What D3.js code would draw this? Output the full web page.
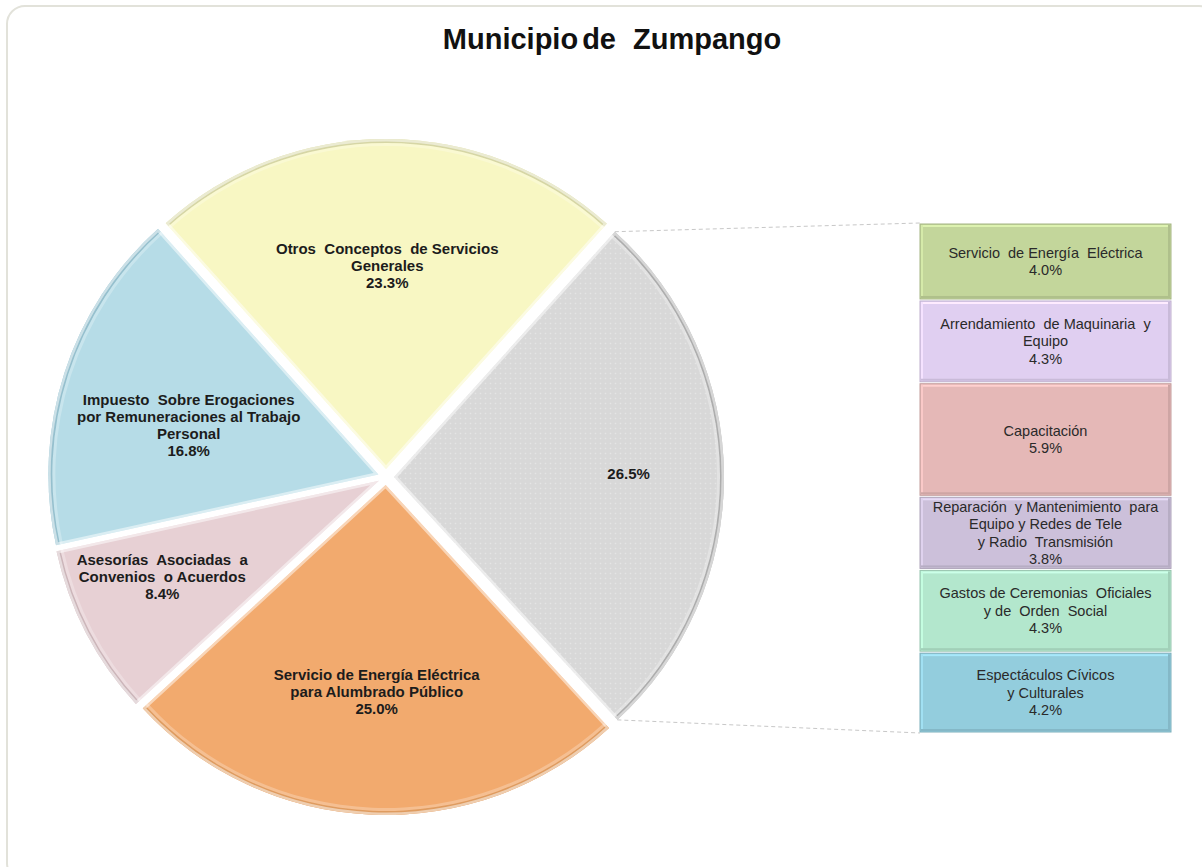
<!DOCTYPE html>
<html><head><meta charset="utf-8">
<script src="https://cdn.jsdelivr.net/npm/d3@7"></script>
<style>body{margin:0;background:#fff;} svg{display:block;font-family:"Liberation Sans",Arial,sans-serif;}</style>
</head><body><svg id="c" width="1202" height="867"></svg>
<script>
const titleWords = ["Municipio", "de", "Zumpango"];
const pieLabels = ["", "Servicio de Energía Eléctrica\npara Alumbrado Público", "Asesorías  Asociadas  a\nConvenios  o Acuerdos", "Impuesto  Sobre Erogaciones\npor Remuneraciones al Trabajo\nPersonal", "Otros  Conceptos  de Servicios\nGenerales"];
const pieValues = [26.5, 25.0, 8.4, 16.8, 23.3];
const pieColors = ["#d8d8d8", "#f2aa6e", "#e7d0d4", "#b6dce7", "#f8f7c3"];
const pieRims = ["#a9a9a9", "#dd9a5e", "#c9b3b7", "#92bccb", "#d2d1a2"];
const barLabels = ["Servicio  de Energía  Eléctrica", "Arrendamiento  de Maquinaria  y\nEquipo", "Capacitación", "Reparación  y Mantenimiento  para\nEquipo y Redes de Tele\ny Radio  Transmisión", "Gastos de Ceremonias  Oficiales\ny de  Orden  Social", "Espectáculos Cívicos\ny Culturales"];
const barValues = [4.0, 4.3, 5.9, 3.8, 4.3, 4.2];
const barColors = ["#c3d69b", "#e0cff1", "#e5b8b7", "#ccc0da", "#b3e7cd", "#93cddd"];
// label layout: radius fraction and pixel nudge
const labelRadiusFactor = [0.72, 0.65, 0.74, 0.62, 0.64];
const labelNudge = [[-3, -2], [0, -7], [0, -16], [5, 14], [1, 8]];

const svg = d3.select("#c");
const fmt = d3.format(".1f");

// frame
svg.append("rect").attr("x", 7).attr("y", 6).attr("width", 1210).attr("height", 875)
  .attr("rx", 18).attr("fill", "#fff").attr("stroke", "#e2e2da").attr("stroke-width", 2);

// title
const tt = svg.append("text").attr("x", 612).attr("y", 49).attr("text-anchor", "middle")
  .attr("font-size", 29).attr("font-weight", "bold").attr("fill", "#111");
tt.append("tspan").text(titleWords[0]);
tt.append("tspan").attr("dx", 4).text(titleWords[1]);
tt.append("tspan").attr("dx", 17).text(titleWords[2]);

// pattern for grey slice
const defs = svg.append("defs");
const pat = defs.append("pattern").attr("id", "dots").attr("width", 5).attr("height", 5).attr("patternUnits", "userSpaceOnUse");
pat.append("rect").attr("width", 5).attr("height", 5).attr("fill", pieColors[0]);
pat.append("circle").attr("cx", 1.5).attr("cy", 1.5).attr("r", 0.8).attr("fill", "#e6e6e6");

const cx = 386, cy = 477, R = 330, explode = 8;
const pie = d3.pie().sort(null).value(d => d)
  .startAngle(42 * Math.PI / 180).endAngle(42 * Math.PI / 180 + 2 * Math.PI);
const arcs = pie(pieValues);
const arc = d3.arc().innerRadius(0).outerRadius(R);

const g = svg.append("g").attr("transform", `translate(${cx},${cy})`);
arcs.forEach((a, i) => {
  const mid = (a.startAngle + a.endAngle) / 2;
  const ox = Math.sin(mid) * explode, oy = -Math.cos(mid) * explode;
  const sg = g.append("g").attr("transform", `translate(${ox},${oy})`);
  defs.append("clipPath").attr("id", "clip" + i).append("path").attr("d", arc(a));
  sg.append("path").attr("d", arc(a)).attr("fill", i === 0 ? "url(#dots)" : pieColors[i]);
  const rim = d3.arc().innerRadius(R - 4).outerRadius(R + 2);
  sg.append("path").attr("d", rim(a)).attr("fill", pieRims[i]).attr("clip-path", `url(#clip${i})`).attr("opacity", 0.9);
  const rim2 = d3.arc().innerRadius(R - 7).outerRadius(R - 4);
  sg.append("path").attr("d", rim2(a)).attr("fill", "#fff").attr("opacity", 0.25).attr("clip-path", `url(#clip${i})`);
  sg.append("path").attr("d", arc(a)).attr("fill", "none").attr("stroke", "#fff").attr("stroke-opacity", 0.5)
    .attr("stroke-width", 5).attr("clip-path", `url(#clip${i})`);
  const lr = R * labelRadiusFactor[i];
  const lx = Math.sin(mid) * lr + labelNudge[i][0], ly = -Math.cos(mid) * lr + labelNudge[i][1];
  const lines = (pieLabels[i] ? pieLabels[i].split("\n") : []).concat([fmt(pieValues[i]) + "%"]);
  const t = sg.append("text").attr("text-anchor", "middle").attr("font-size", 15).attr("font-weight", "bold")
    .attr("fill", "#1c1c1c").style("white-space", "pre");
  lines.forEach((ln, k) => {
    t.append("tspan").attr("x", lx).attr("y", ly + (k - (lines.length - 1) / 2) * 17 + 5).text(ln);
  });
});

// bar
const bx = 920, bw = 251;
const total = d3.sum(barValues);
const y = d3.scaleLinear().domain([0, total]).range([223, 733]);
const greyArc = arcs[0];
const gm = (greyArc.startAngle + greyArc.endAngle) / 2;
const gox = Math.sin(gm) * explode, goy = -Math.cos(gm) * explode;
const p1 = [cx + gox + Math.sin(greyArc.startAngle) * R, cy + goy - Math.cos(greyArc.startAngle) * R];
const p2 = [cx + gox + Math.sin(greyArc.endAngle) * R, cy + goy - Math.cos(greyArc.endAngle) * R];
svg.append("line").attr("x1", p1[0]).attr("y1", p1[1]).attr("x2", bx).attr("y2", y(0))
  .attr("stroke", "#c8c8c8").attr("stroke-dasharray", "4,3");
svg.append("line").attr("x1", p2[0]).attr("y1", p2[1]).attr("x2", bx).attr("y2", y(total))
  .attr("stroke", "#c8c8c8").attr("stroke-dasharray", "4,3");

let cum = 0;
barValues.forEach((v, i) => {
  const y0 = y(cum) + 1, y1 = y(cum + v) - 1;
  cum += v;
  const c = d3.color(barColors[i]);
  const bg = svg.append("g");
  bg.append("rect").attr("x", bx).attr("y", y0).attr("width", bw).attr("height", y1 - y0)
    .attr("fill", barColors[i]).attr("stroke", c.darker(0.45)).attr("stroke-width", 1);
  bg.append("rect").attr("x", bx + 1).attr("y", y0 + 1).attr("width", bw - 2).attr("height", 2).attr("fill", c.brighter(0.35));
  bg.append("rect").attr("x", bx + 1).attr("y", y0 + 1).attr("width", 2).attr("height", y1 - y0 - 2).attr("fill", c.brighter(0.25));
  bg.append("rect").attr("x", bx + 1).attr("y", y1 - 3).attr("width", bw - 2).attr("height", 2).attr("fill", c.darker(0.3));
  bg.append("rect").attr("x", bx + bw - 3).attr("y", y0 + 1).attr("width", 2).attr("height", y1 - y0 - 2).attr("fill", c.darker(0.3));
  const lines = barLabels[i].split("\n").concat([fmt(v) + "%"]);
  const mid = (y0 + y1) / 2;
  const t = bg.append("text").attr("text-anchor", "middle").attr("font-size", 14.5).attr("fill", "#2a2a2a").style("white-space", "pre");
  lines.forEach((ln, k) => {
    t.append("tspan").attr("x", bx + bw / 2).attr("y", mid + (k - (lines.length - 1) / 2) * 17.5 + 5).text(ln);
  });
});
</script></body></html>
